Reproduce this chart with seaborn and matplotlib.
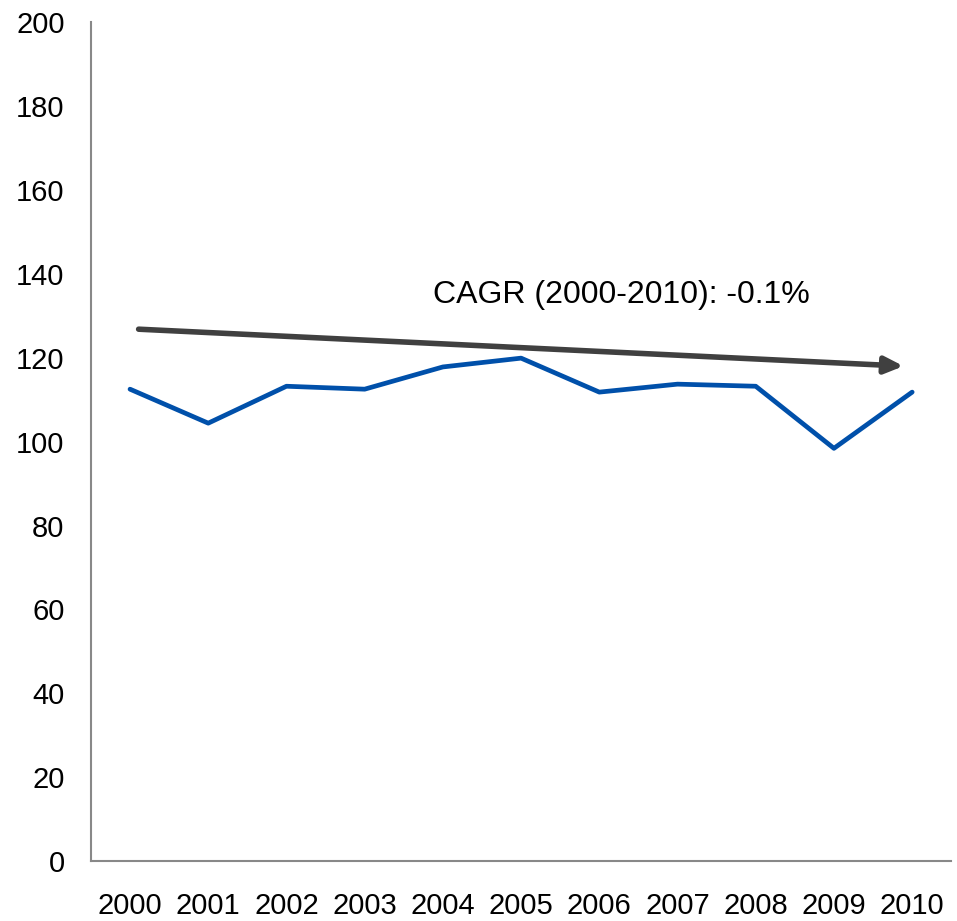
import numpy as np
import pandas as pd
import seaborn as sns
import matplotlib.pyplot as plt

years = ["2000", "2001", "2002", "2003", "2004", "2005", "2006", "2007", "2008", "2009", "2010"]
values = [112.5, 104.4, 113.2, 112.5, 117.8, 119.9, 111.8, 113.7, 113.2, 98.4, 111.8]
trend_start = 126.8  # CAGR arrow start / end levels
trend_end = 118.0
cagr_label = "CAGR (2000-2010): -0.1%"

sns.set_style("white")
plt.rcParams['font.family'] = ['Liberation Sans', 'DejaVu Sans']

df = pd.DataFrame({"year": years, "value": values})
df["pos"] = np.arange(len(years))

fig = plt.figure(figsize=(9.57, 9.21), dpi=100)
ax = fig.add_axes([0.095, 0.065, 0.899, 0.911])

sns.lineplot(data=df, x="pos", y="value", ax=ax, color="#0050AA", linewidth=3.4)

# trend arrow
ax.annotate("", xy=(9.89, trend_end), xytext=(0.11, trend_start),
            arrowprops=dict(arrowstyle="-|>,head_length=1.1,head_width=0.5",
                            color="#404040", lw=4, shrinkA=0, shrinkB=0))
ax.text(6.28, 135, cagr_label, ha="center", va="center", fontsize=23, color="black")

ax.set_xlim(-0.5, 10.5)
ax.set_ylim(0, 200)
ax.set_xticks(df["pos"])
ax.set_xticklabels(years)
ax.set_yticks(range(0, 201, 20))
ax.tick_params(axis="both", length=0, labelsize=21, labelcolor="black")
ax.tick_params(axis="x", pad=22)
ax.tick_params(axis="y", pad=19)
ax.set_xlabel("")
ax.set_ylabel("")
for s in ["top", "right"]:
    ax.spines[s].set_visible(False)
for s in ["left", "bottom"]:
    ax.spines[s].set_color("#888888")
    ax.spines[s].set_linewidth(1.5)

fig.savefig("out.png", dpi=100)
